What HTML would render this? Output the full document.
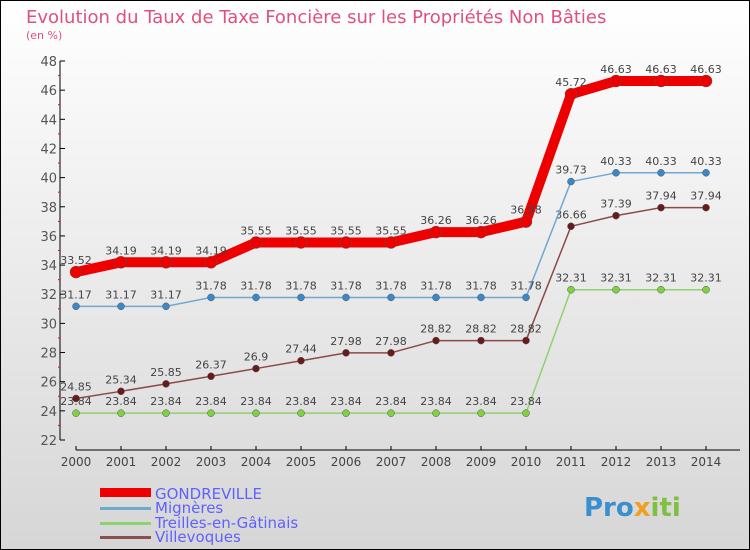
<!DOCTYPE html>
<html><head><meta charset="utf-8"><style>
body{margin:0;width:750px;height:550px;overflow:hidden}
svg{display:block;font-family:"DejaVu Sans","Liberation Sans",sans-serif}
</style></head><body>
<svg width="750" height="550" xmlns="http://www.w3.org/2000/svg">
<defs><linearGradient id="bg" x1="0" y1="0" x2="0" y2="1"><stop offset="0" stop-color="#ffffff"/><stop offset="1" stop-color="#d6d6d6"/></linearGradient></defs>
<rect x="0.5" y="0.5" width="749" height="549" fill="url(#bg)" stroke="#000"/>
<text x="26" y="23" font-size="18" fill="#e0507a">Evolution du Taux de Taxe Foncière sur les Propriétés Non Bâties</text>
<text x="26" y="39" font-size="11" fill="#e0507a">(en %)</text>
<g id="axes"></g>
<g id="series"></g>
<g>
<rect x="100" y="488" width="51" height="9" fill="#e00"/>
<text x="155" y="499" font-size="15" fill="#6060ff">GONDREVILLE</text>
<rect x="100" y="507" width="51" height="3" fill="#6fa8d0"/>
<text x="155" y="513" font-size="15" fill="#6060ff">Mignères</text>
<rect x="100" y="522" width="51" height="3" fill="#8fd070"/>
<text x="155" y="528" font-size="15" fill="#6060ff">Treilles-en-Gâtinais</text>
<rect x="100" y="536" width="51" height="3" fill="#8a5050"/>
<text x="155" y="542" font-size="15" fill="#6060ff">Villevoques</text>
</g>
<text x="584" y="516" font-size="26" font-weight="bold"><tspan fill="#3a8fd0">Pro</tspan><tspan fill="#f0a020">x</tspan><tspan fill="#80c040">iti</tspan></text>
</svg>
<script>
const years=[2000,2001,2002,2003,2004,2005,2006,2007,2008,2009,2010,2011,2012,2013,2014];
const yTicks=[22,24,26,28,30,32,34,36,38,40,42,44,46,48];
const gondreville=[33.52,34.19,34.19,34.19,35.55,35.55,35.55,35.55,36.26,36.26,36.98,45.72,46.63,46.63,46.63];
const mignes=[31.17,31.17,31.17,31.78,31.78,31.78,31.78,31.78,31.78,31.78,31.78,39.73,40.33,40.33,40.33];
const treilles=[23.84,23.84,23.84,23.84,23.84,23.84,23.84,23.84,23.84,23.84,23.84,32.31,32.31,32.31,32.31];
const villevoques=[24.85,25.34,25.85,26.37,26.9,27.44,27.98,27.98,28.82,28.82,28.82,36.66,37.39,37.94,37.94];
const NS="http://www.w3.org/2000/svg";
const xs=i=>76+i*45;
const ys=v=>440-(v-22)*(379/26);
function mk(tag,attrs,parent){const e=document.createElementNS(NS,tag);for(const k in attrs)e.setAttribute(k,attrs[k]);parent.appendChild(e);return e;}
const ax=document.getElementById('axes');
let l=mk('line',{x1:60,y1:ys(48),x2:60,y2:ys(22),stroke:'#000','stroke-width':1},ax);


l=mk('line',{x1:76,y1:450,x2:740,y2:450,stroke:'#000','stroke-width':1},ax);


yTicks.forEach((t,i)=>{
 mk('line',{x1:60,y1:ys(t),x2:65,y2:ys(t),stroke:'#000'},ax);
 if(i<yTicks.length-1) mk('line',{x1:58,y1:ys(t+1),x2:60,y2:ys(t+1),stroke:'#f00'},ax);
 const tx=mk('text',{x:57,y:ys(t)+5,'font-size':13,fill:'#555','text-anchor':'end'},ax);
 tx.textContent=t;
 
 
});
years.forEach((y,i)=>{
 mk('line',{x1:xs(i),y1:446,x2:xs(i),y2:450,stroke:'#000'},ax);
 const tx=mk('text',{x:xs(i),y:466,'font-size':12,fill:'#444','text-anchor':'middle'},ax);
 tx.textContent=y;
 
 
});
const sg=document.getElementById('series');
function series(data,name,color,w,dotFill,dotR){
 const g=mk('g',{},sg);
 
 
 const pts=data.map((v,i)=>xs(i)+','+ys(v)).join(' ');
 mk('polyline',{points:pts,fill:'none',stroke:color,'stroke-width':w,'stroke-linejoin':'round'},g);
 data.forEach((v,i)=>{
  const c=mk('circle',{cx:xs(i),cy:ys(v),r:dotR,fill:dotFill,stroke:'#555','stroke-width':0.5},g);
  
  
  const t=mk('text',{x:xs(i),y:ys(v)-8,'font-size':11,fill:'#444','text-anchor':'middle'},g);
  t.textContent=v;
  
  
 });
}
series(treilles,'treilles','#90d070',1.5,'#80d040',3.5);
series(villevoques,'villevoques','#8a4a4a',1.5,'#6a1a1a',3.5);
series(mignes,'mignes','#6fa8d0',1.5,'#3a88c8',3.5);
series(gondreville,'gondreville','#ee0000',10,'#ee0000',6);
</script>
</body></html>
